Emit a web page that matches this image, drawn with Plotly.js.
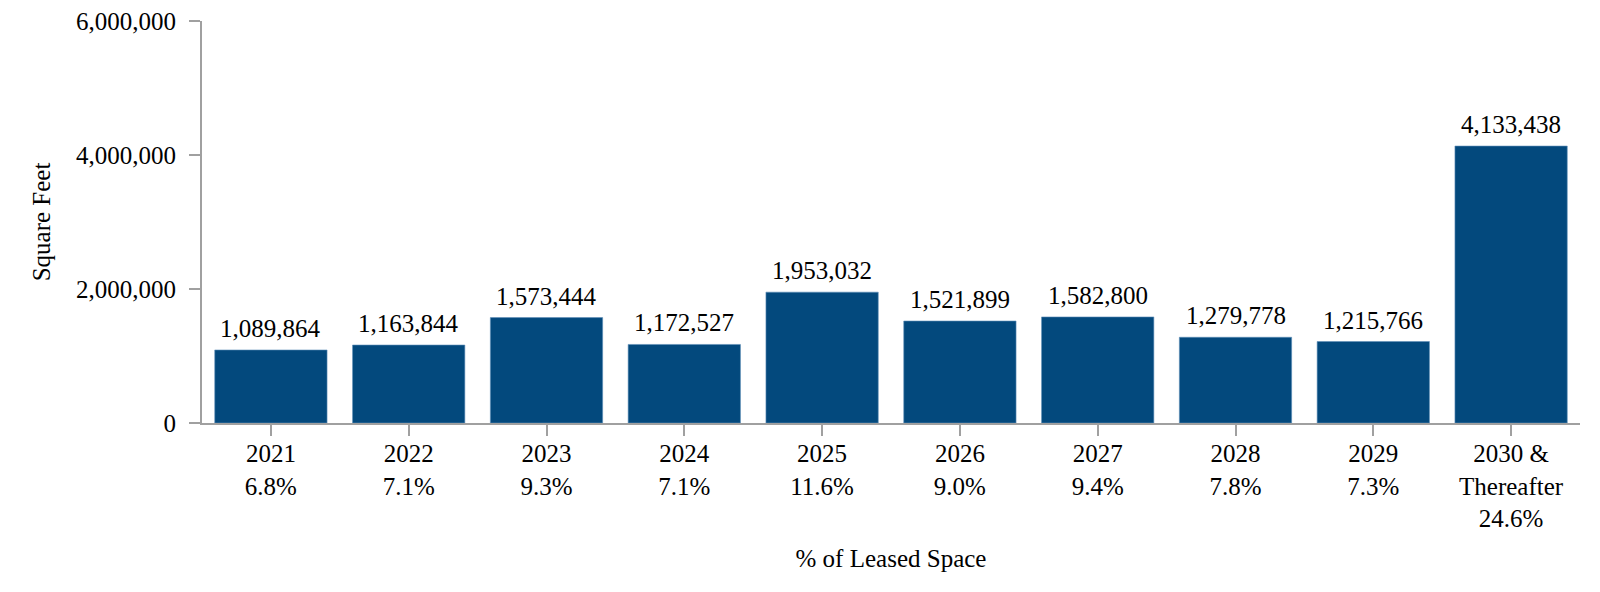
<!DOCTYPE html>
<html>
<head>
<meta charset="utf-8">
<script src="https://cdn.plot.ly/plotly-3.0.1.min.js"></script>
<style>
  html, body { margin: 0; padding: 0; background: #ffffff; }
  #chart { width: 1600px; height: 592px; }
</style>
</head>
<body>
<div id="chart"></div>
<script>
const years = ["2021", "2022", "2023", "2024", "2025", "2026", "2027", "2028", "2029", "2030 &<br>Thereafter"];
const pctLeased = ["6.8%", "7.1%", "9.3%", "7.1%", "11.6%", "9.0%", "9.4%", "7.8%", "7.3%", "24.6%"];
const squareFeet = [1089864, 1163844, 1573444, 1172527, 1953032, 1521899, 1582800, 1279778, 1215766, 4133438];
const yTickVals = [0, 2000000, 4000000, 6000000];

const categories = years.map((y, i) => y + "<br>" + pctLeased[i]);
const FONT = "'Liberation Serif', 'Times New Roman', Times, serif";

const trace = {
  type: "bar",
  x: categories,
  y: squareFeet,
  marker: { color: "#03497d", line: { color: "#5f8fb8", width: 0.6 } },
  hoverinfo: "skip"
};

const annotations = categories.map((c, i) => ({
  x: c,
  y: squareFeet[i],
  xref: "x",
  yref: "y",
  text: squareFeet[i].toLocaleString("en-US"),
  showarrow: false,
  yanchor: "bottom",
  yshift: 6,
  font: { family: FONT, size: 25, color: "#000000" }
}));

const layout = {
  width: 1600,
  height: 592,
  margin: { l: 202, r: 20, t: 21, b: 169 },
  paper_bgcolor: "#ffffff",
  plot_bgcolor: "#ffffff",
  showlegend: false,
  bargap: 0.185,
  font: { family: FONT, size: 25, color: "#000000" },
  xaxis: {
    type: "category",
    showline: true,
    linecolor: "#a0a0a0",
    linewidth: 2,
    ticks: "outside",
    ticklen: 11,
    tickwidth: 2,
    tickcolor: "#a0a0a0",
    ticklabelstandoff: -4,
    showgrid: false,
    zeroline: false,
    tickfont: { family: FONT, size: 25, color: "#000000" },
    automargin: false,
    title: { text: "% of Leased Space", font: { family: FONT, size: 25, color: "#000000" }, standoff: 18 }
  },
  yaxis: {
    range: [0, 6000000],
    tickvals: yTickVals,
    tickformat: ",",
    showline: true,
    linecolor: "#a0a0a0",
    linewidth: 2,
    ticks: "outside",
    ticklen: 11,
    tickwidth: 2,
    tickcolor: "#a0a0a0",
    ticklabelstandoff: 8,
    showgrid: false,
    zeroline: false,
    tickfont: { family: FONT, size: 25, color: "#000000" },
    automargin: false,
    title: { text: "Square Feet", font: { family: FONT, size: 25, color: "#000000" }, standoff: 18 }
  },
  annotations: annotations
};

Plotly.newPlot("chart", [trace], layout, { displayModeBar: false, staticPlot: true });
</script>
</body>
</html>
